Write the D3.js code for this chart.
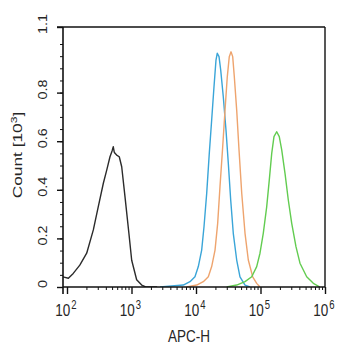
<!DOCTYPE html>
<html>
<head>
<meta charset="utf-8">
<script src="https://cdn.jsdelivr.net/npm/d3@7"></script>
<style>
  html, body { margin: 0; padding: 0; background: #fff; }
  svg { display: block; }
  text { font-family: "Liberation Sans", Arial, sans-serif; fill: #262626; }
</style>
</head>
<body>
<svg id="chart" width="345" height="350"></svg>
<script>
// APC-H intensity (x) and event count in thousands (y) for each histogram
const blackX = [86, 105, 125, 158, 202, 256, 305, 366, 412, 464, 500, 522, 540, 555, 589, 646, 705, 794, 912, 1007, 1202, 1439, 1660, 2500];
const blackY = [0.042, 0.036, 0.056, 0.09, 0.139, 0.235, 0.33, 0.427, 0.48, 0.536, 0.56, 0.577, 0.555, 0.55, 0.543, 0.536, 0.495, 0.37, 0.22, 0.11, 0.03, 0.008, 0.0, 0.0];

const blueX = [2767, 6353, 8072, 9638, 10864, 12246, 13305, 14655, 16069, 17498, 19011, 20417, 21380, 22751, 24155, 26485, 29174, 31696, 34514, 37844, 42756, 48084, 57544, 68707];
const blueY = [0.0, 0.008, 0.022, 0.042, 0.084, 0.152, 0.248, 0.386, 0.55, 0.687, 0.824, 0.934, 0.962, 0.948, 0.893, 0.783, 0.646, 0.509, 0.358, 0.221, 0.111, 0.042, 0.008, 0.0];

const orangeX = [7178, 10257, 12972, 15524, 17498, 19724, 21677, 23550, 25942, 28184, 30549, 32810, 34914, 37068, 39264, 42756, 46452, 51168, 57544, 64714, 75683, 87297, 98175];
const orangeY = [0.0, 0.008, 0.022, 0.042, 0.084, 0.152, 0.262, 0.413, 0.577, 0.728, 0.865, 0.948, 0.968, 0.948, 0.865, 0.728, 0.564, 0.386, 0.221, 0.111, 0.042, 0.015, 0.0];

const greenX = [29923, 42756, 57544, 73114, 87297, 98175, 110408, 124738, 136773, 149279, 161808, 178238, 195434, 213304, 239883, 269774, 304789, 354813, 409260, 519996, 659174, 835603];
const greenY = [0.0, 0.008, 0.022, 0.042, 0.084, 0.139, 0.221, 0.33, 0.44, 0.55, 0.619, 0.639, 0.619, 0.564, 0.468, 0.358, 0.262, 0.166, 0.098, 0.042, 0.015, 0.0];

const seriesNames  = ["control", "blue", "orange", "green"];
const seriesColors = ["#2b2b2b", "#3aa5d8", "#eea46e", "#62cc50"];

// Axis ticks
const xMajorTicks = [1e2, 1e3, 1e4, 1e5, 1e6];
const xTickExponents = ["2", "3", "4", "5", "6"];
const yTickValues = [0, 0.2, 0.4, 0.6, 0.8, 1.07];
const yTickLabels = ["0", "0.2", "0.4", "0.6", "0.8", "1.1"];

const series = [
  { x: blackX,  y: blackY },
  { x: blueX,   y: blueY },
  { x: orangeX, y: orangeY },
  { x: greenX,  y: greenY }
].map((s, i) => ({ name: seriesNames[i], color: seriesColors[i],
                   points: s.x.map((v, j) => [v, s.y[j]]) }));

const svg = d3.select("#chart");
const plotL = 63, plotR = 325, plotT = 27, plotB = 287;

const x = d3.scaleLog().domain([86.7, 1e6]).range([plotL, plotR]);
const y = d3.scaleLinear().domain([0, 1.07]).range([plotB, plotT]);

svg.append("defs").append("clipPath").attr("id", "plotClip")
  .append("rect").attr("x", plotL).attr("y", plotT - 2)
  .attr("width", plotR - plotL).attr("height", plotB - plotT + 2);

// Histograms
const line = d3.line().x(d => x(d[0])).y(d => y(d[1]));
svg.append("g").attr("clip-path", "url(#plotClip)")
  .selectAll("path").data(series).join("path")
  .attr("d", d => line(d.points))
  .attr("fill", "none")
  .attr("stroke", d => d.color)
  .attr("stroke-width", 1.4)
  .attr("stroke-linejoin", "round");

// Frame: top and right edges
svg.append("line").attr("x1", plotL - 6).attr("x2", plotR).attr("y1", plotT).attr("y2", plotT)
  .attr("stroke", "#111").attr("stroke-width", 1.4);
svg.append("line").attr("x1", plotR).attr("x2", plotR).attr("y1", plotT).attr("y2", plotB)
  .attr("stroke", "#111").attr("stroke-width", 1.4);

// X axis (log, with minor ticks)
const xMinor = [];
for (let e = 2; e < 6; e++) for (let m = 2; m <= 9; m++) xMinor.push(m * Math.pow(10, e));
const gx = svg.append("g").attr("transform", `translate(0,${plotB})`)
  .call(d3.axisBottom(x).tickValues(xMajorTicks).tickSize(7).tickFormat(""));
gx.select(".domain").remove();
gx.selectAll(".tick line").attr("stroke", "#111").attr("stroke-width", 1.4);
svg.append("g").attr("transform", `translate(0,${plotB})`)
  .call(d3.axisBottom(x).tickValues(xMinor).tickSize(3).tickFormat(""))
  .call(g => g.select(".domain").remove())
  .selectAll(".tick line").attr("stroke", "#111").attr("stroke-width", 1);
svg.append("line").attr("x1", plotL).attr("x2", plotR).attr("y1", plotB).attr("y2", plotB)
  .attr("stroke", "#111").attr("stroke-width", 1.6);

// X tick labels: 10 with superscript exponent, slightly tall glyphs
const xLab = svg.append("g");
xMajorTicks.forEach((v, i) => {
  const t = xLab.append("text")
    .attr("transform", `translate(${x(v) - 1},316) scale(1,1.25)`)
    .attr("text-anchor", "middle")
    .attr("font-size", 13.5);
  t.append("tspan").text("10");
  t.append("tspan").attr("font-size", 9.5).attr("dy", -6).attr("dx", 1).text(xTickExponents[i]);
});

// Y axis with minor ticks every 0.05
const yMinor = d3.range(0, 21).map(i => i * 0.05);
svg.append("g").attr("transform", `translate(${plotL},0)`)
  .call(d3.axisLeft(y).tickValues(yMinor).tickSize(3).tickFormat(""))
  .call(g => g.select(".domain").remove())
  .selectAll(".tick line").attr("stroke", "#111").attr("stroke-width", 1);
svg.append("g").attr("transform", `translate(${plotL},0)`)
  .call(d3.axisLeft(y).tickValues(yTickValues).tickSize(6).tickFormat(""))
  .call(g => g.select(".domain").remove())
  .selectAll(".tick line").attr("stroke", "#111").attr("stroke-width", 1.4);
svg.append("line").attr("x1", plotL).attr("x2", plotL).attr("y1", plotT).attr("y2", plotB + 7)
  .attr("stroke", "#111").attr("stroke-width", 1.6);

svg.append("g").selectAll("text").data(yTickValues).join("text")
  .attr("transform", d => `translate(47,${y(d) - 3}) rotate(-90) scale(1.15,1)`)
  .attr("text-anchor", "middle")
  .attr("font-size", 12.5)
  .text((d, i) => yTickLabels[i]);

// Axis titles
svg.append("text")
  .attr("transform", "translate(189,342) scale(1,1.2)")
  .attr("text-anchor", "middle").attr("font-size", 13.5)
  .text("APC-H");

const yTitle = svg.append("text")
  .attr("transform", "translate(22,155) rotate(-90) scale(1.28,1)")
  .attr("text-anchor", "middle").attr("font-size", 13.5);
yTitle.append("tspan").text("Count [10");
yTitle.append("tspan").attr("font-size", 9.5).attr("dy", -5).text("3");
yTitle.append("tspan").attr("dy", 5).text("]");
</script>
</body>
</html>
